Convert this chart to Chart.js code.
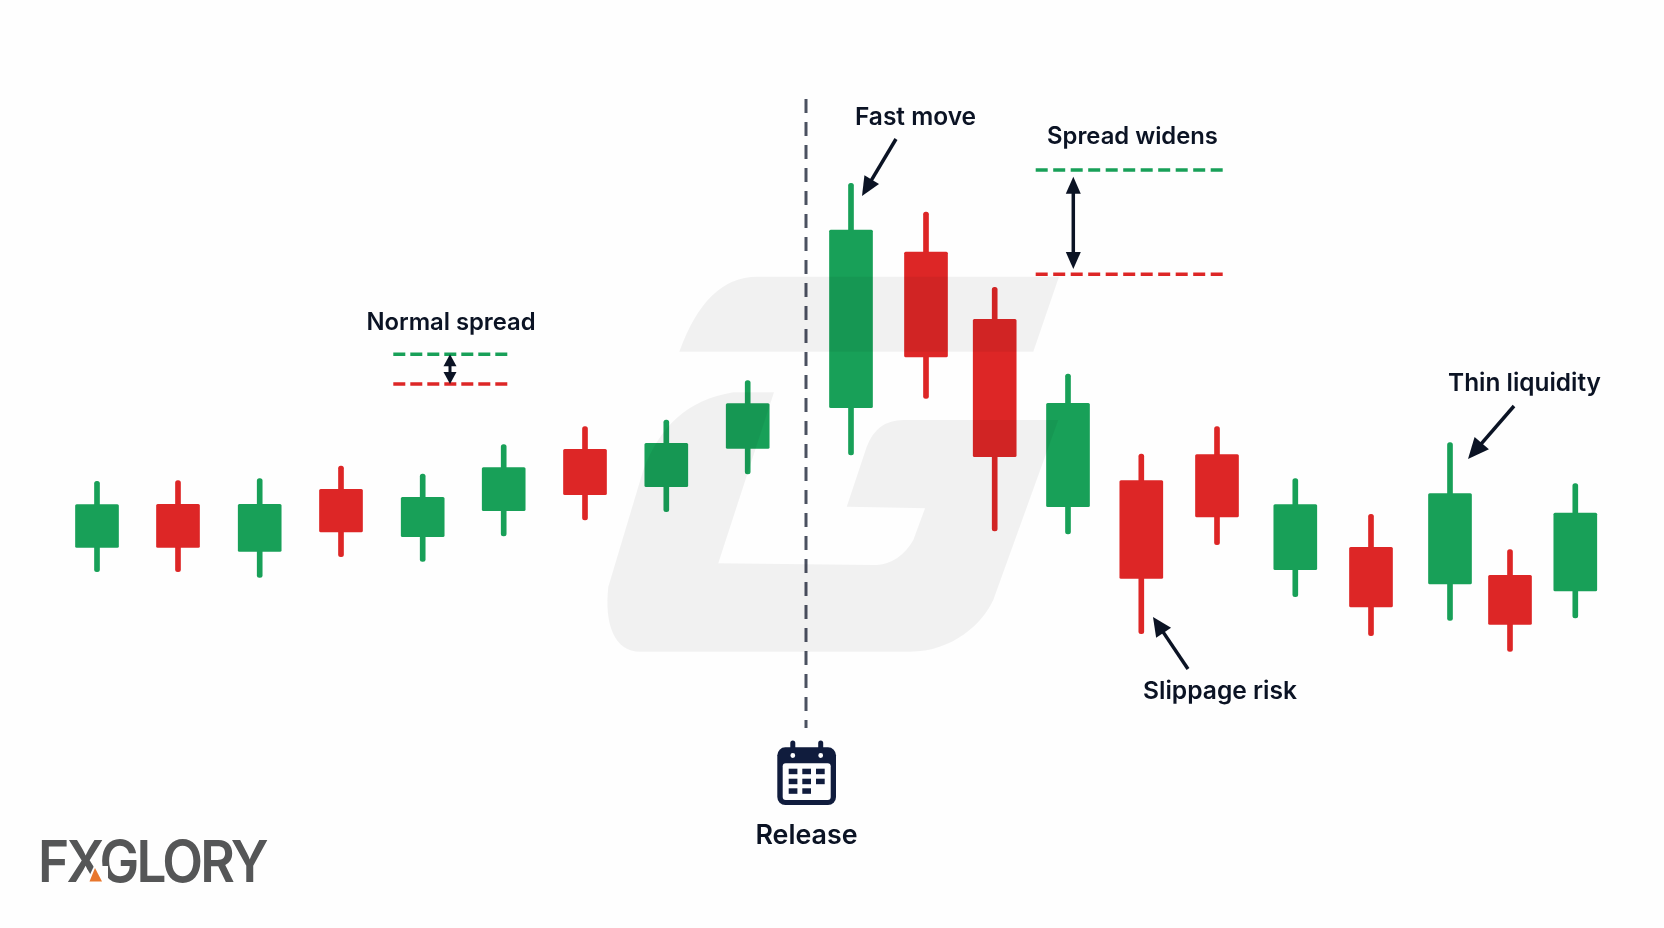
<!DOCTYPE html>
<html><head><meta charset="utf-8">
<style>html,body{margin:0;padding:0;background:#fefefe}canvas{display:block}</style>
<script src="https://cdn.jsdelivr.net/npm/chart.js@4/dist/chart.umd.js"></script>
</head><body>
<canvas id="c" width="1664" height="928"></canvas>
<script>
const times  = [9.7,17.8,25.97,34.1,42.27,50.37,58.5,66.63,74.77,85.1,92.6,99.47,106.8,114.13,121.7,129.53,137.1,145,151,157.53];
const opens  = [38.07,42.37,37.67,43.87,39.13,41.73,47.87,44.13,47.97,52.03,67.6,60.87,42.13,44.73,47.33,35.83,38.07,34.4,35.27,33.7];
const closes = [42.33,38.07,42.37,39.6,43.07,46.03,43.33,48.47,52.43,69.8,57.1,47.13,52.47,34.97,41.1,42.33,32.1,43.43,30.37,41.5];
const highs  = [44.67,44.73,44.93,46.2,45.4,48.33,50.13,50.8,54.73,74.47,71.6,64.07,55.4,47.4,50.13,44.93,41.37,48.53,37.83,44.43];
const lows   = [35.63,35.63,35.07,37.13,36.67,39.2,40.8,41.63,45.4,47.3,52.97,39.7,39.4,29.43,38.33,33.13,29.23,30.77,27.67,31];
const releaseTime = 80.6, releaseRange = [82.9,20];
const normalSpread = {from:39.33,to:50.73,ask:57.37,bid:54.4};
const wideSpread   = {from:103.57,to:122.27,ask:75.8,bid:65.37};
const GREEN='#18a058', RED='#dd2626', INK='#0b1324';
const colors = opens.map((o,i)=>closes[i]>=o?GREEN:RED);

const labels = [
  ['Normal spread',451,330,23.8],['Fast move',915.5,125,24.5],['Spread widens',1132.5,144,23.8],
  ['Slippage risk',1220,699,24.6],['Thin liquidity',1524.5,391,24.4],['Release',806.5,844,26.8]
];
const arrows = [
  [896,139,862,196,19,17],[1188,669,1153,617,19,18],[1514,406,1468,459,21,19]
];
function head(ctx,x,y,ang,len,w){
  ctx.beginPath();ctx.moveTo(x,y);
  ctx.lineTo(x-len*Math.cos(ang)-w/2*Math.sin(ang),y-len*Math.sin(ang)+w/2*Math.cos(ang));
  ctx.lineTo(x-len*Math.cos(ang)+w/2*Math.sin(ang),y-len*Math.sin(ang)-w/2*Math.cos(ang));
  ctx.closePath();ctx.fill();
}
function arrow(ctx,x1,y1,x2,y2,len,w,lw,both){
  const a=Math.atan2(y2-y1,x2-x1);
  ctx.strokeStyle=ctx.fillStyle=INK;ctx.lineWidth=lw;ctx.lineCap='butt';
  ctx.beginPath();
  ctx.moveTo(x1+(both?Math.cos(a)*len*.8:0),y1+(both?Math.sin(a)*len*.8:0));
  ctx.lineTo(x2-Math.cos(a)*len*.8,y2-Math.sin(a)*len*.8);ctx.stroke();
  head(ctx,x2,y2,a,len,w);
  if(both)head(ctx,x1,y1,a+Math.PI,len,w);
}
function rr(ctx,x,y,w,h,r){ctx.beginPath();ctx.roundRect(x,y,w,h,r);}

const overlay = {
  id:'overlay',
  afterDatasetsDraw(chart){
    const ctx=chart.ctx;ctx.save();
    // watermark
    ctx.fillStyle='rgba(0,0,0,0.05)';
    ctx.beginPath();
    ctx.moveTo(679.3,351.7);ctx.quadraticCurveTo(706,277,756.7,276.7);ctx.lineTo(1059,276.7);ctx.lineTo(1033.3,351.7);ctx.closePath();
    ctx.moveTo(774,392.3);ctx.lineTo(733.3,392.3);
    ctx.bezierCurveTo(686.7,400,660,426.7,643.3,470);ctx.lineTo(608.3,586.7);
    ctx.bezierCurveTo(604,625,615,651.7,640,651.7);ctx.lineTo(910,651.7);
    ctx.bezierCurveTo(953,651.7,983,623,993.3,600);ctx.lineTo(1058.3,420);ctx.lineTo(903.3,420);
    ctx.quadraticCurveTo(876.7,420,866.7,446.7);ctx.lineTo(846.7,506.7);ctx.lineTo(925,508.3);ctx.lineTo(913.3,540);
    ctx.quadraticCurveTo(900,563,876.7,565);ctx.lineTo(718.3,563.3);ctx.closePath();
    ctx.fill();
    // spread arrows
    const xs=chart.scales.x, ys=chart.scales.y;
    arrow(ctx,xs.getPixelForValue(45),ys.getPixelForValue(normalSpread.ask),xs.getPixelForValue(45),ys.getPixelForValue(normalSpread.bid),12,13,3,true);
    arrow(ctx,xs.getPixelForValue(107.33),ys.getPixelForValue(75.13),xs.getPixelForValue(107.33),ys.getPixelForValue(65.9),17,15,3.5,true);
    arrows.forEach(a=>arrow(ctx,a[0],a[1],a[2],a[3],a[4],a[5],3.5,false));
    // labels
    ctx.fillStyle=INK;ctx.textAlign='center';ctx.textBaseline='alphabetic';
    labels.forEach(l=>{ctx.font='600 '+l[3]+'px Inter';ctx.fillText(l[0],l[1],l[2]);});
    // calendar
    ctx.fillStyle='#101c3d';
    rr(ctx,777.3,747.3,58.7,57.7,8);ctx.fill();
    rr(ctx,790.3,740.5,5,14,2.5);ctx.fill();rr(ctx,818.2,740.5,5,14,2.5);ctx.fill();
    ctx.fillStyle='#fefefe';
    rr(ctx,782.7,763.3,48,36.7,3);ctx.fill();
    ctx.beginPath();ctx.arc(792.8,755.5,2.4,0,7);ctx.arc(820.7,755.5,2.4,0,7);ctx.fill();
    ctx.fillStyle='#101c3d';
    [[788.7,768.7],[802.3,768.7],[816,768.7],[788.7,778.7],[802.3,778.7],[816,778.7],[788.7,788.3],[802.3,788.3]].forEach(p=>ctx.fillRect(p[0],p[1],8.7,5.5));
    // logo
    ctx.save();
    ctx.translate(38,882);ctx.scale(0.915,1);
    ctx.fillStyle='#555657';ctx.textAlign='left';
    ctx.font='600 58px Inter';
    ctx.letterSpacing='-3px';
    ctx.fillText('FXGLORY',0,0);
    ctx.letterSpacing='0px';
    ctx.restore();
    ctx.fillStyle='#fefefe';
    ctx.beginPath();ctx.moveTo(86,883);ctx.lineTo(94,866);ctx.lineTo(108,866);ctx.lineTo(108,883);ctx.closePath();ctx.fill();
    ctx.fillStyle='#e8762c';
    ctx.beginPath();ctx.moveTo(89.5,881.5);ctx.lineTo(95,868);ctx.lineTo(102,881.5);ctx.closePath();ctx.fill();
    ctx.restore();
  }
};

const lineDs=(data,color,dash,width)=>({type:'line',data,borderColor:color,borderWidth:width,borderDash:dash,pointRadius:0,fill:false,tension:0,order:0});
new Chart(document.getElementById('c'),{
  type:'bar',
  data:{datasets:[
    {data:times.map((t,i)=>({x:t,y:[lows[i],highs[i]]})),backgroundColor:colors,barThickness:5,borderRadius:2.5,borderSkipped:false,grouped:false,order:2},
    {data:times.map((t,i)=>({x:t,y:[opens[i],closes[i]]})),backgroundColor:colors,barThickness:43,borderRadius:1.5,borderSkipped:false,grouped:false,order:1},
    lineDs(releaseRange.map(y=>({x:releaseTime,y})),'#4b5160',[14,9],3),
    lineDs([normalSpread.from,normalSpread.to].map(x=>({x,y:normalSpread.ask})),GREEN,[12,5],3.6),
    lineDs([normalSpread.from,normalSpread.to].map(x=>({x,y:normalSpread.bid})),RED,[12,5],3.6),
    lineDs([wideSpread.from,wideSpread.to].map(x=>({x,y:wideSpread.ask})),GREEN,[12,5.5],3.6),
    lineDs([wideSpread.from,wideSpread.to].map(x=>({x,y:wideSpread.bid})),RED,[12,5.5],3.6)
  ]},
  options:{
    responsive:false,animation:false,
    layout:{padding:0},
    plugins:{legend:{display:false},tooltip:{enabled:false}},
    scales:{
      x:{type:'linear',min:0,max:166.4,display:false,offset:false},
      y:{type:'linear',min:0,max:92.8,display:false}
    }
  },
  plugins:[overlay]
});
</script>
</body></html>
